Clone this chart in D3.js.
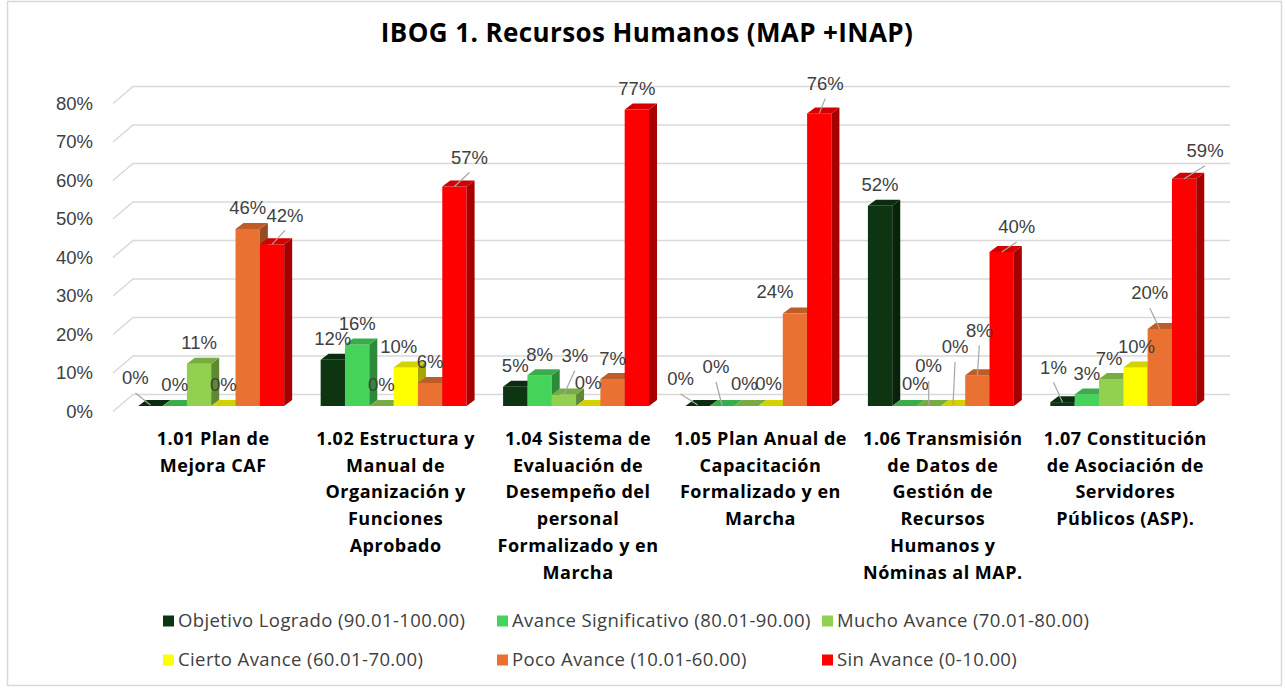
<!DOCTYPE html>
<html>
<head>
<meta charset="utf-8">
<script src="https://cdn.jsdelivr.net/npm/d3@7"></script>
<style>
  html, body { margin: 0; padding: 0; background: #ffffff; }
  svg { display: block; }
</style>
</head>
<body>
<svg id="chart" width="1285" height="688"></svg>
<script>
// ---------------- DATA ----------------
const title = "IBOG 1. Recursos Humanos (MAP +INAP)";
const categories = [
  "1.01 Plan de Mejora CAF",
  "1.02 Estructura y Manual de Organización y Funciones Aprobado",
  "1.04 Sistema de Evaluación de Desempeño del personal Formalizado y en Marcha",
  "1.05 Plan Anual de Capacitación Formalizado y  en Marcha",
  "1.06 Transmisión de Datos de Gestión de Recursos Humanos y Nóminas al MAP.",
  "1.07 Constitución de Asociación de Servidores Públicos (ASP)."
];
const categoryLines = [
  ["1.01 Plan de", "Mejora CAF"],
  ["1.02 Estructura y", "Manual de", "Organización y", "Funciones", "Aprobado"],
  ["1.04 Sistema de", "Evaluación de", "Desempeño del", "personal", "Formalizado y en", "Marcha"],
  ["1.05 Plan Anual de", "Capacitación", "Formalizado y  en", "Marcha"],
  ["1.06 Transmisión", "de Datos de", "Gestión de", "Recursos", "Humanos y", "Nóminas al MAP."],
  ["1.07 Constitución", "de Asociación de", "Servidores", "Públicos (ASP)."]
];
const seriesNames = [
  "Objetivo Logrado (90.01-100.00)",
  "Avance Significativo (80.01-90.00)",
  "Mucho Avance (70.01-80.00)",
  "Cierto Avance (60.01-70.00)",
  "Poco Avance (10.01-60.00)",
  "Sin Avance (0-10.00)"
];
const objetivoLogrado     = [0, 12, 5, 0, 52, 1];
const avanceSignificativo = [0, 16, 8, 0, 0, 3];
const muchoAvance         = [11, 0, 3, 0, 0, 7];
const ciertoAvance        = [0, 10, 0, 0, 0, 10];
const pocoAvance          = [46, 6, 7, 24, 8, 20];
const sinAvance           = [42, 57, 77, 76, 40, 59];
const yTicks = [0, 10, 20, 30, 40, 50, 60, 70, 80];

// ---------------- STYLE / LAYOUT ----------------
const seriesColors = ["#0d3512", "#45d35a", "#92d050", "#ffff00", "#e97132", "#ff0000"];
const sideDark = 1.2, topDark = 0.55;
// manual label nudges (Excel moved labels): [dx, dy, leaderLine]
const labelNudges = [
  [[-15,-7,1],[0,0,0],[0,0,0],[0,0,0],[0,0,0],[13,-8,1]],
  [[0,0,0],[0,0,0],[0,0,0],[-7,0,0],[0,0,0],[15,-8,1]],
  [[0,0,0],[0,0,0],[11,-18,1],[0,-2,0],[0,0,0],[0,0,0]],
  [[-17,-6,1],[-6,-18,1],[-2,-1,0],[-2,-1,0],[-20,-1,0],[6,-9,1]],
  [[0,0,0],[11,-1,0],[0,-19,1],[2,-38,1],[2,-24,1],[15,-4,1]],
  [[-9,-14,1],[0,0,0],[-2,0,0],[1,0,0],[-10,-15,1],[21,-7,1]]
];
const headFont = "'Open Sans', Lato, sans-serif";
const numFont = "'Liberation Sans', Arial, sans-serif";

const allSeries = [objetivoLogrado, avanceSignificativo, muchoAvance, ciertoAvance, pocoAvance, sinAvance];

const svg = d3.select("#chart");
const W = 1285, H = 688;

// chart border
svg.append("rect").attr("x", 7.5).attr("y", 1.5).attr("width", W - 11).attr("height", H - 4)
  .attr("fill", "#fff").attr("stroke", "#d9d9d9").attr("stroke-width", 1.5);

// title
svg.append("text").attr("x", 647).attr("y", 42).attr("text-anchor", "middle")
  .attr("font-family", headFont).attr("font-weight", "bold")
  .attr("font-size", 26).attr("letter-spacing", 0.4).attr("fill", "#000").text(title);

// scales
const x = d3.scaleBand().domain(categories).range([120, 1214.5]).paddingInner(0.2).paddingOuter(0.1);
const xs = d3.scaleBand().domain(d3.range(seriesNames.length)).range([0, x.bandwidth()]).padding(0);
const y = d3.scaleLinear().domain([0, 80]).range([406, 98]);
const depth = { dx: 8, dy: 6 };
const wall = { dx: 20, dy: 17, back: 11.5, left: 113, right: 1230 };

// gridlines (back wall + left slant)
const grid = svg.append("g");
yTicks.forEach(t => {
  const yb = y(t) - wall.back;
  grid.append("path")
    .attr("d", `M${wall.left},${yb + wall.dy} L${wall.left + wall.dx},${yb} L${wall.right},${yb}`)
    .attr("fill", "none").attr("stroke", "#d9d9d9").attr("stroke-width", 1.5);
});

// y axis labels
svg.append("g").selectAll("text").data(yTicks).join("text")
  .attr("x", 93).attr("y", d => y(d) - wall.back + wall.dy)
  .attr("dy", "0.35em").attr("text-anchor", "end")
  .attr("font-family", numFont).attr("font-size", 18.5)
  .attr("fill", "#404040").text(d => d + "%");

// bars
const bars = svg.append("g");
categories.forEach((c, ci) => {
  allSeries.forEach((vals, si) => {
    const v = vals[ci];
    const x0 = x(c) + xs(si), w = xs.bandwidth();
    const yt = y(v), yb = y(0);
    const col = d3.color(seriesColors[si]);
    const g = bars.append("g");
    if (v > 0) {
      g.append("rect").attr("x", x0).attr("y", yt).attr("width", w).attr("height", yb - yt).attr("fill", col);
      g.append("path")
        .attr("d", `M${x0 + w},${yt} L${x0 + w + depth.dx},${yt - depth.dy} L${x0 + w + depth.dx},${yb - depth.dy} L${x0 + w},${yb} Z`)
        .attr("fill", col.darker(sideDark));
    }
    g.append("path")
      .attr("d", `M${x0},${yt} L${x0 + depth.dx},${yt - depth.dy} L${x0 + w + depth.dx},${yt - depth.dy} L${x0 + w},${yt} Z`)
      .attr("fill", col.darker(topDark));
  });
});

// data labels
const labels = svg.append("g");
categories.forEach((c, ci) => {
  allSeries.forEach((vals, si) => {
    const v = vals[ci];
    const cx = x(c) + xs(si) + xs.bandwidth() / 2;
    const yt = y(v);
    const [ndx, ndy, leader] = labelNudges[ci][si];
    const lx = cx + ndx, ly = yt - 21 + ndy;
    if (leader) {
      labels.append("line").attr("x1", lx).attr("y1", ly + 15).attr("x2", cx).attr("y2", v > 0 ? yt : yt - 1)
        .attr("stroke", "#a6a6a6").attr("stroke-width", 1.2);
    }
    labels.append("text").attr("x", lx).attr("y", ly).attr("dy", "0.35em").attr("text-anchor", "middle")
      .attr("font-family", numFont).attr("font-size", 18.5)
      .attr("fill", "#404040").text(v + "%");
  });
});

// category labels
const catG = svg.append("g");
categories.forEach((c, ci) => {
  const cx = x(c) + x.bandwidth() / 2 + 2;
  const t = catG.append("text").attr("x", cx).attr("y", 445)
    .attr("text-anchor", "middle").attr("font-family", headFont)
    .attr("font-weight", "bold").attr("font-size", 18).attr("letter-spacing", 0.5).attr("fill", "#000");
  categoryLines[ci].forEach((line, li) => {
    t.append("tspan").attr("x", cx).attr("y", 445 + li * 26.7).text(line);
  });
});

// legend
const legendPos = [[163, 621], [497, 621], [822, 621], [163, 660], [497, 660], [822, 660]];
const leg = svg.append("g");
seriesNames.forEach((n, i) => {
  const [lx, ly] = legendPos[i];
  leg.append("rect").attr("x", lx).attr("y", ly - 5.5).attr("width", 11).attr("height", 11).attr("fill", seriesColors[i]);
  leg.append("text").attr("x", lx + 15).attr("y", ly).attr("dy", "0.35em")
    .attr("font-family", headFont).attr("font-size", 18.5).attr("letter-spacing", 0.4)
    .attr("fill", "#404040").text(n);
});
</script>
</body>
</html>
